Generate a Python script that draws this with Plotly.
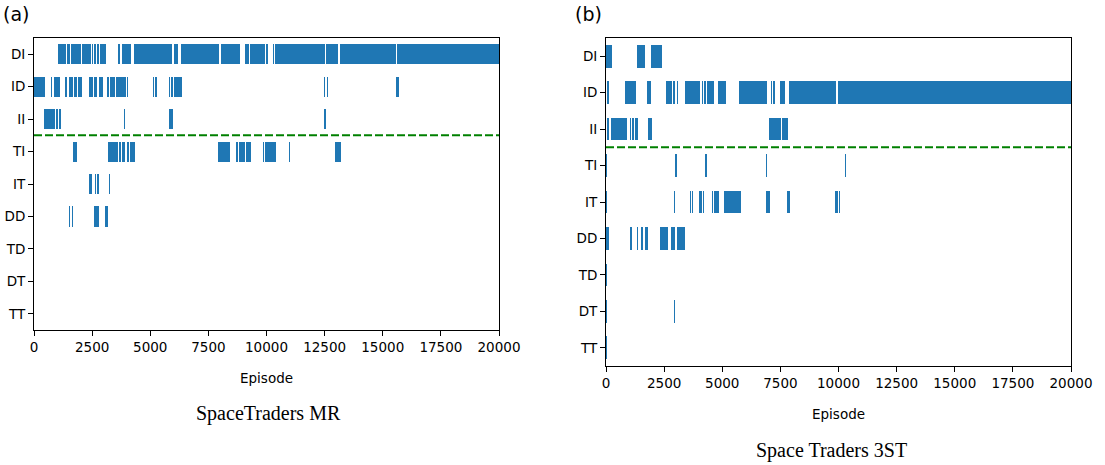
import plotly.graph_objects as go

categories = ["DI", "ID", "II", "TI", "IT", "DD", "TD", "DT", "TT"]
x_ticks = [0, 2500, 5000, 7500, 10000, 12500, 15000, 17500, 20000]
n_episodes = 20000

# ---- Panel (a): SpaceTraders MR -- (start, end) episode spans per category
a_DI = [(1030, 1360), (1430, 1550), (1605, 2005), (2050, 2450), (2495, 2540),
        (2580, 2655), (2710, 2780), (2840, 3095), (3615, 3700), (3785, 4155),
        (4300, 5920), (6010, 6180), (6325, 7970), (8045, 8860), (9075, 9235),
        (9290, 9935), (9980, 10050), (10290, 10320), (10365, 12515),
        (12560, 13075), (13150, 15570), (15615, 20000)]
a_ID = [(0, 475), (715, 790), (860, 1120), (1350, 1405), (1520, 1665),
        (1735, 1835), (1905, 2065), (2350, 2550), (2595, 2710), (2780, 2955),
        (3140, 3240), (3285, 3470), (3525, 3945), (4000, 4060), (5105, 5150),
        (5205, 5275), (5795, 5850), (5905, 5995), (6035, 6365),
        (12470, 12515), (12600, 12645), (15570, 15700)]
a_II = [(430, 890), (955, 1015), (1085, 1160), (3870, 3915), (5805, 5980),
        (12470, 12560)]
a_TI = [(1675, 1850), (3185, 3615), (3655, 3740), (3800, 3915), (4000, 4085),
        (4145, 4345), (7915, 8430), (8690, 8775), (8830, 9075), (9135, 9320),
        (9835, 9880), (9935, 10410), (10965, 11010), (12945, 13205)]
a_IT = [(2365, 2495), (2625, 2680), (2710, 2795), (3225, 3270)]
a_DD = [(1505, 1550), (1620, 1675), (2580, 2795), (3055, 3185)]
a_TD = []
a_DT = []
a_TT = []

# ---- Panel (b): Space Traders 3ST
b_DI = [(0, 245), (1350, 1665), (1935, 2395)]
b_ID = [(55, 130), (815, 1290), (1765, 1935), (2580, 2840), (2880, 2955),
        (3040, 3095), (3400, 4045), (4115, 4185), (4230, 4300), (4345, 4645),
        (4815, 5160), (5705, 6925), (7085, 7140), (7185, 7270), (7485, 7700),
        (7870, 9880), (9980, 20000)]
b_II = [(55, 130), (215, 905), (1030, 1075), (1120, 1190), (1245, 1375),
        (1805, 1980), (7010, 7525), (7570, 7830)]
b_TI = [(0, 30), (2965, 3055), (4255, 4345), (6880, 6925), (10270, 10320)]
b_IT = [(0, 30), (2925, 2970), (3610, 3655), (3700, 3740), (4000, 4130),
        (4170, 4215), (4560, 4600), (4645, 4860), (5075, 5805), (6880, 7055),
        (7785, 7915), (9850, 9980), (10020, 10065)]
b_DD = [(0, 130), (1030, 1120), (1335, 1375), (1505, 1590), (1675, 1805),
        (2325, 2665), (2795, 2970), (3055, 3400)]
b_TD = [(0, 30)]
b_DT = [(0, 30), (2910, 2960)]
b_TT = [(0, 30)]

panel_a = [a_DI, a_ID, a_II, a_TI, a_IT, a_DD, a_TD, a_DT, a_TT]
panel_b = [b_DI, b_ID, b_II, b_TI, b_IT, b_DD, b_TD, b_DT, b_TT]

BAR_COLOR = "#1f77b4"
W, H = 1105, 465
TICK_SIZE = 13.5


def bar_trace(panel, xa, ya):
    ys, bases, lens = [], [], []
    for cat, spans in zip(categories, panel):
        for s, e in spans:
            ys.append(cat)
            bases.append(s)
            lens.append(e - s)
    return go.Bar(y=ys, x=lens, base=bases, orientation="h", width=0.62,
                  marker=dict(color=BAR_COLOR, line=dict(width=0)),
                  xaxis=xa, yaxis=ya, showlegend=False, hoverinfo="skip")


fig = go.Figure()
fig.add_trace(bar_trace(panel_a, "x", "y"))
fig.add_trace(bar_trace(panel_b, "x2", "y2"))


def px_x(p):
    return p / W


def px_y(p):
    return 1 - p / H


axis_common = dict(showline=True, mirror=True, linecolor="black", linewidth=1,
                   ticks="outside", ticklen=5, tickwidth=1, tickcolor="black",
                   showgrid=False, zeroline=False, automargin=False,
                   tickfont=dict(family="DejaVu Sans", size=TICK_SIZE,
                                 color="black"))

xcommon = dict(axis_common, range=[0, n_episodes], tickvals=x_ticks,
               ticktext=[str(v) for v in x_ticks])
ycommon = dict(axis_common, type="category", categoryorder="array",
               categoryarray=categories, range=[8.5, -0.5])

fig.update_layout(
    width=W, height=H, margin=dict(l=0, r=0, t=0, b=0, autoexpand=False),
    paper_bgcolor="white", plot_bgcolor="white", barmode="overlay",
    bargap=0,
    xaxis=dict(xcommon, domain=[px_x(34), px_x(499)], anchor="y"),
    yaxis=dict(ycommon, domain=[px_y(330), px_y(38)], anchor="x"),
    xaxis2=dict(xcommon, domain=[px_x(606), px_x(1071)], anchor="y2"),
    yaxis2=dict(ycommon, domain=[px_y(366), px_y(38)], anchor="x2"),
)

for xa, ya in (("x", "y"), ("x2", "y2")):
    fig.add_shape(type="line", xref=f"{xa} domain", yref=ya, x0=0, x1=1,
                  y0=2.5, y1=2.5,
                  line=dict(color="green", width=2, dash="8px,3px"))

ann = [
    ("(a)", 16, 14, "DejaVu Sans", 19),
    ("(b)", 588, 14, "DejaVu Sans", 19),
    ("Episode", 266, 378, "DejaVu Sans", TICK_SIZE),
    ("Episode", 838, 414, "DejaVu Sans", TICK_SIZE),
    ("SpaceTraders MR", 268, 413, "Liberation Serif", 20),
    ("Space Traders 3ST", 831, 450, "Liberation Serif", 20),
]
for text, x, y, fam, size in ann:
    fig.add_annotation(text=text, xref="paper", yref="paper", x=px_x(x),
                       y=px_y(y), xanchor="center", yanchor="middle",
                       showarrow=False,
                       font=dict(family=fam, size=size, color="black"))

fig.write_html(
    "out.html",
    config={"displayModeBar": False, "staticPlot": True},
    post_script="document.body.style.margin='0';"
                "document.body.style.overflow='hidden';",
)
